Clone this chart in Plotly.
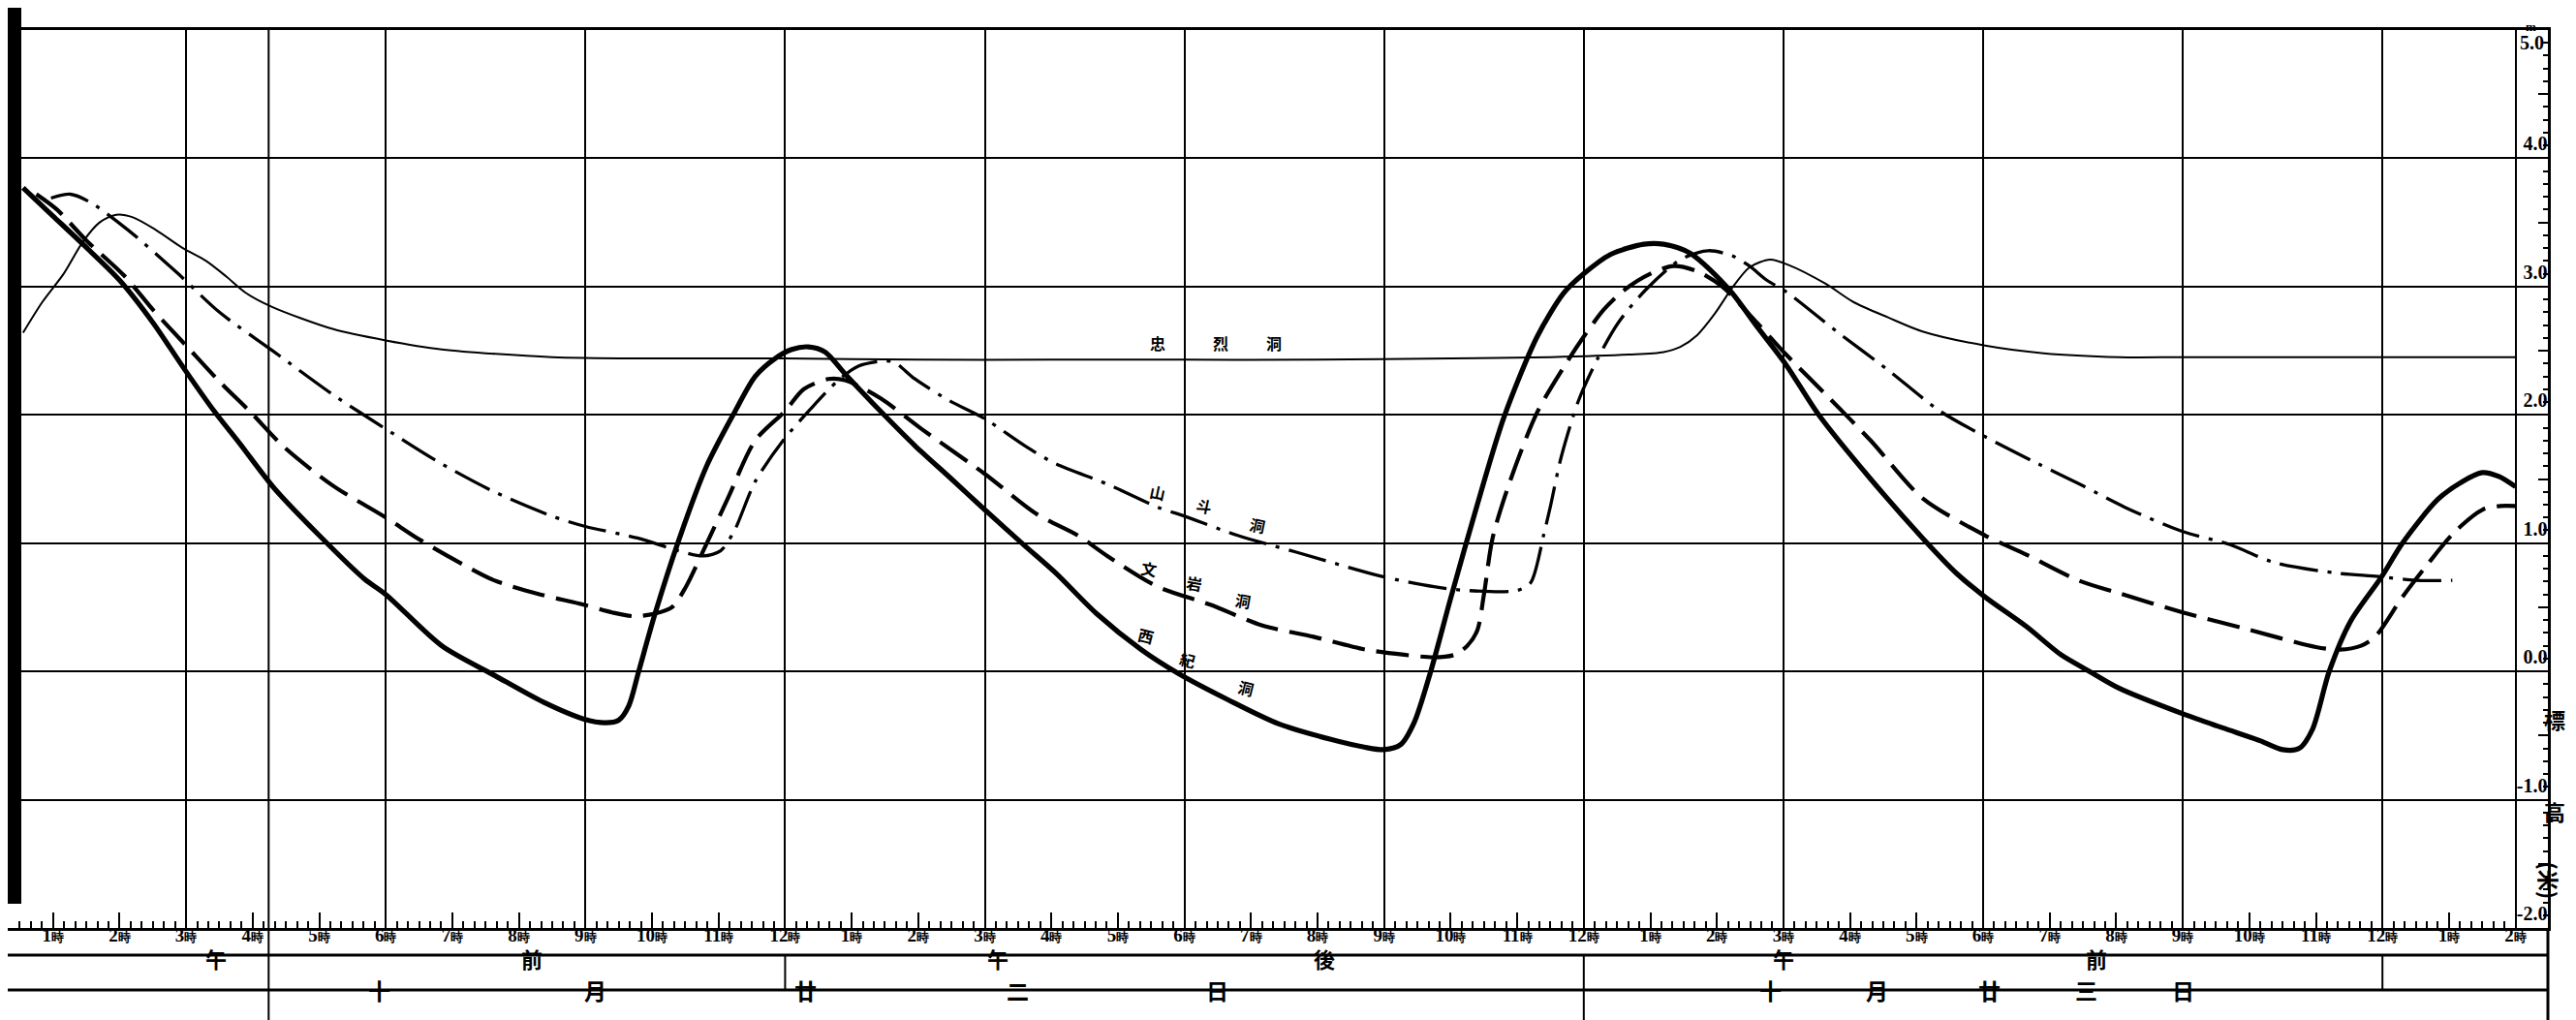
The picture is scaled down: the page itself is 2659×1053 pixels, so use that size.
import plotly.graph_objects as go

# ---------------- data (time in hours from 0h of 十月廿二日, height in m) ----------------
hours = list(range(1, 39))
hour_labels = [f"{(h - 1) % 12 + 1}<span style='font-size:13px'>時</span>" for h in hours]
grid_hours = [3, 6, 9, 12, 15, 18, 21, 24, 27, 30, 33, 36, 38]
height_ticks = [-2, -1, 0, 1, 2, 3, 4]
height_labels = ["-2.0", "-1.0", "0.0", "1.0", "2.0", "3.0", "4.0"]

# 西紀洞 (thick solid)
t_seiki = [0.55, 1.0, 1.47, 2.0, 2.5, 2.97, 3.42, 3.8, 4.32, 5.0, 5.68, 6.0, 6.84, 7.63, 8.37, 8.97, 9.3,
           9.5, 9.65, 9.8, 10.04, 10.4, 10.82, 11.24, 11.55, 11.85, 12.1, 12.35, 12.6, 12.9, 13.43, 13.95,
           14.5, 15.0, 15.6, 16.06, 16.68, 17.35, 17.92, 18.65, 19.42, 20.2, 20.7, 21.0, 21.25, 21.45, 21.7,
           22.0, 22.4, 22.8, 23.3, 23.7, 24.0, 24.4, 24.9, 25.2, 25.6, 26.18, 26.6, 27.04, 27.53, 28.31,
           29.09, 29.61, 30.03, 30.65, 31.17, 31.6, 32.04, 33.0, 33.6, 34.16, 34.5, 34.75, 34.95, 35.2,
           35.52, 35.99, 36.3, 36.83, 37.2, 37.5, 37.75, 38.0]
v_seiki = [3.77, 3.55, 3.32, 3.05, 2.72, 2.36, 2.03, 1.78, 1.43, 1.06, 0.72, 0.6, 0.2, -0.03, -0.24, -0.37,
           -0.40, -0.38, -0.27, 0.0, 0.44, 1.02, 1.6, 2.02, 2.3, 2.44, 2.51, 2.53, 2.49, 2.32, 2.03, 1.76,
           1.5, 1.26, 0.98, 0.77, 0.45, 0.17, -0.02, -0.22, -0.41, -0.53, -0.59, -0.61, -0.57, -0.40, 0.0,
           0.57, 1.3, 1.98, 2.61, 2.95, 3.10, 3.25, 3.33, 3.33, 3.26, 2.98, 2.69, 2.39, 2.0, 1.5,
           1.04, 0.76, 0.58, 0.35, 0.13, 0.0, -0.13, -0.33, -0.44, -0.54, -0.61, -0.6, -0.45, 0.0,
           0.39, 0.74, 1.0, 1.34, 1.48, 1.55, 1.52, 1.44]

# 文岩洞 (dashed)
t_bungan = [0.75, 1.06, 1.5, 2.08, 2.5, 3.0, 3.5, 3.97, 4.47, 5.2, 6.0, 6.47, 7.0, 7.63, 8.32, 8.9, 9.4, 9.73,
            10.04, 10.3, 10.51, 10.77, 11.14, 11.55, 12.0, 12.28, 12.65, 12.9, 13.43, 14.05, 15.0, 15.77,
            16.4, 16.84, 17.6, 18.39, 19.16, 19.94, 20.72, 21.3, 21.75, 22.06, 22.25, 22.4, 22.5, 22.63,
            22.89, 23.3, 23.72, 24.0, 24.3, 24.6, 25.0, 25.35, 25.7, 26.08, 26.6, 27.04, 27.69, 28.31,
            29.09, 30.03, 30.65, 31.43, 32.04, 33.0, 33.96, 35.0, 35.36, 35.68, 35.89, 36.3, 36.67, 37.09,
            37.5, 37.77, 38.0]
v_bungan = [3.72, 3.6, 3.36, 3.08, 2.82, 2.54, 2.26, 2.02, 1.75, 1.45, 1.2, 1.04, 0.88, 0.71, 0.6, 0.53, 0.46,
            0.43, 0.45, 0.5, 0.66, 0.94, 1.35, 1.8, 2.03, 2.2, 2.28, 2.27, 2.13, 1.89, 1.54, 1.23,
            1.06, 0.9, 0.66, 0.52, 0.36, 0.27, 0.17, 0.13, 0.11, 0.13, 0.2, 0.32, 0.6, 1.04,
            1.48, 2.02, 2.39, 2.61, 2.82, 2.97, 3.1, 3.16, 3.12, 3.0, 2.72, 2.47, 2.13, 1.8,
            1.35, 1.06, 0.91, 0.71, 0.61, 0.46, 0.33, 0.19, 0.17, 0.2, 0.27, 0.58, 0.83, 1.09,
            1.26, 1.29, 1.29]

# 山斗洞 (dash-dot)
t_santo = [0.97, 1.26, 1.55, 2.13, 2.86, 3.5, 4.3, 5.2, 6.0, 6.8, 7.63, 8.5, 9.0, 9.78, 10.4, 10.77, 11.03,
           11.24, 11.55, 11.97, 12.39, 12.8, 13.1, 13.48, 13.64, 13.95, 14.47, 15.0, 15.6, 16.06, 16.84,
           17.6, 18.0, 18.8, 19.68, 20.97, 21.75, 22.27, 22.99, 23.2, 23.4, 23.5, 23.66, 23.92, 24.21,
           24.52, 24.94, 25.45, 25.87, 26.23, 26.49, 26.75, 27.04, 27.8, 28.57, 29.35, 30.03, 30.82,
           31.45, 32.13, 33.0, 33.7, 34.37, 35.26, 35.94, 36.5, 37.05]
v_santo = [3.69, 3.72, 3.66, 3.44, 3.11, 2.8, 2.5, 2.16, 1.89, 1.63, 1.40, 1.21, 1.13, 1.04, 0.94, 0.9, 0.94,
           1.10, 1.48, 1.8, 2.05, 2.27, 2.38, 2.42, 2.41, 2.28, 2.11, 1.97, 1.76, 1.62, 1.46,
           1.28, 1.21, 1.06, 0.93, 0.74, 0.66, 0.63, 0.63, 0.69, 1.07, 1.29, 1.67, 2.11, 2.44,
           2.72, 2.98, 3.21, 3.28, 3.24, 3.16, 3.05, 2.96, 2.65, 2.35, 2.03, 1.83, 1.62,
           1.46, 1.28, 1.09, 0.99, 0.85, 0.77, 0.74, 0.71, 0.71]

# 忠烈洞 (thin solid)
t_churetsu = [0.55, 0.84, 1.16, 1.45, 1.7, 1.95, 2.2, 2.55, 2.95, 3.3, 3.6, 3.9, 4.3, 5.2, 6.0, 6.84, 8.5,
              10.0, 12.0, 14.0, 16.0, 18.0, 20.0, 22.0, 23.5, 24.68, 25.2, 25.45, 25.7, 25.97, 26.23,
              26.49, 26.8, 27.07, 27.64, 28.05, 28.57, 29.09, 30.03, 30.91, 32.04, 33.0, 35.0, 38.0]
v_churetsu = [2.64, 2.88, 3.1, 3.35, 3.5, 3.56, 3.54, 3.44, 3.3, 3.2, 3.08, 2.95, 2.84, 2.67, 2.58, 2.51, 2.45,
              2.44, 2.44, 2.43, 2.43, 2.43, 2.43, 2.44, 2.45, 2.47, 2.49, 2.53, 2.62, 2.79, 2.99,
              3.15, 3.21, 3.17, 3.02, 2.88, 2.76, 2.65, 2.54, 2.48, 2.45, 2.45, 2.45, 2.45]

# row texts under the time axis (character, hour position)
ampm_row = [("午", 3.45), ("前", 8.2), ("午", 15.2), ("後", 20.1), ("午", 27.0), ("前", 31.7)]
date_row = [("十", 5.9), ("月", 9.15), ("廿", 12.3), ("二", 15.5), ("日", 18.5),
            ("十", 26.8), ("月", 28.4), ("廿", 30.1), ("三", 31.55), ("日", 33.0)]

# ---------------- figure ----------------
W, H = 2659, 1053
ML, MR, MT, MB = 0, 37, 23, 103
PW, PH = W - ML - MR, H - MT - MB
XR = [0.32, 38.486]
YR = [-2, 5]


def py(p):  # pixel y -> paper y
    return (H - MB - p) / PH


def px(p):  # pixel x -> paper x
    return (p - ML) / PW


fig = go.Figure()

fig.add_trace(go.Scatter(x=t_churetsu, y=v_churetsu, mode="lines", name="忠烈洞",
                         line=dict(color="black", width=2, shape="spline", smoothing=0.8)))
fig.add_trace(go.Scatter(x=t_santo, y=v_santo, mode="lines", name="山斗洞",
                         line=dict(color="black", width=3.3, dash="40px,10px,4px,10px",
                                   shape="spline", smoothing=0.8)))
fig.add_trace(go.Scatter(x=t_bungan, y=v_bungan, mode="lines", name="文岩洞",
                         line=dict(color="black", width=4.2, dash="34px,12px", shape="spline", smoothing=0.8)))
fig.add_trace(go.Scatter(x=t_seiki, y=v_seiki, mode="lines", name="西紀洞",
                         line=dict(color="black", width=5.2, shape="spline", smoothing=0.8)))
# carrier trace for the overlay axes (grid lines / half-metre ticks)
fig.add_trace(go.Scatter(x=[grid_hours[0]], y=[0], xaxis="x2", yaxis="y2", mode="markers",
                         marker=dict(opacity=0), hoverinfo="skip", showlegend=False))

serif = "Liberation Serif"
cjk = "Noto Sans CJK JP"

fig.update_layout(
    width=W, height=H,
    margin=dict(l=ML, r=MR, t=MT, b=MB, autoexpand=False),
    paper_bgcolor="white", plot_bgcolor="white",
    showlegend=False,
    xaxis=dict(range=XR, tickmode="array", tickvals=hours, ticktext=hour_labels,
               ticks="inside", ticklen=16, tickwidth=2, tickcolor="black",
               ticklabelstandoff=-12, ticklabeloverflow="allow",
               minor=dict(tickmode="linear", tick0=0, dtick=1 / 6, ticks="inside", ticklen=7,
                          tickwidth=1.5, tickcolor="black", showgrid=False),
               showgrid=False, zeroline=False, showline=True, linewidth=3, linecolor="black",
               mirror=True, tickfont=dict(family=serif, size=19, color="black", weight="bold"),
               automargin=False),
    xaxis2=dict(range=XR, overlaying="x", tickmode="array", tickvals=grid_hours, showgrid=True,
                gridcolor="black", gridwidth=2, showticklabels=False, ticks="", showline=False,
                zeroline=False),
    yaxis=dict(range=YR, side="right", tickmode="array", tickvals=height_ticks, ticktext=height_labels,
               ticks="inside", ticklen=10, tickwidth=2, tickcolor="black",
               ticklabelposition="inside top",
               minor=dict(tickmode="linear", tick0=0, dtick=0.1, ticks="inside", ticklen=5,
                          tickwidth=1.5, tickcolor="black", showgrid=False),
               showgrid=True, gridcolor="black", gridwidth=2, zeroline=False,
               showline=True, linewidth=3, linecolor="black",
               tickfont=dict(family=serif, size=20, color="black", weight="bold"), automargin=False),
    yaxis2=dict(range=YR, overlaying="y", side="right", tickmode="array",
                tickvals=[-1.5, -0.5, 0.5, 1.5, 2.5, 3.5, 4.5], ticks="inside", ticklen=10,
                tickwidth=2, tickcolor="black", showticklabels=False, showgrid=False,
                zeroline=False, showline=False),
)

shapes = []
# scan edge on the left
shapes.append(dict(type="rect", xref="paper", yref="paper", x0=px(0), x1=px(14), y0=py(925), y1=py(0),
                   fillcolor="black", line=dict(width=0), layer="above"))
# seam line
shapes.append(dict(type="line", xref="x", yref="paper", x0=4.24, x1=4.24, y0=py(1050), y1=py(23),
                   line=dict(color="black", width=2), layer="below"))
# rows under the time axis
for yy in (978, 1014, 1050):
    shapes.append(dict(type="line", xref="paper", yref="paper", x0=0, x1=1, y0=py(yy), y1=py(yy),
                       line=dict(color="black", width=3)))
shapes.append(dict(type="line", xref="paper", yref="paper", x0=1, x1=1, y0=py(950), y1=py(1050),
                   line=dict(color="black", width=3)))
for tt in (12, 24, 36):
    shapes.append(dict(type="line", xref="x", yref="paper", x0=tt, x1=tt, y0=py(978), y1=py(1014),
                       line=dict(color="black", width=2)))
shapes.append(dict(type="line", xref="x", yref="paper", x0=24, x1=24, y0=py(1014), y1=py(1050),
                   line=dict(color="black", width=2)))
fig.update_layout(shapes=shapes)

ann = []
for ch, tt in ampm_row:
    ann.append(dict(x=tt, y=py(999), xref="x", yref="paper", text=ch, showarrow=False,
                    font=dict(family=cjk, size=22, color="black", weight="bold")))
for ch, tt in date_row:
    ann.append(dict(x=tt, y=py(1033), xref="x", yref="paper", text=ch, showarrow=False,
                    font=dict(family=cjk, size=23, color="black", weight="bold")))

# station labels along the curves
station_labels = [
    ("忠", 17.6, 2.56, 0), ("烈", 18.55, 2.56, 0), ("洞", 19.35, 2.56, 0),
    ("山", 17.6, 1.40, 12), ("斗", 18.3, 1.29, 12), ("洞", 19.1, 1.14, 12),
    ("文", 17.46, 0.80, 10), ("岩", 18.15, 0.69, 10), ("洞", 18.88, 0.55, 10),
    ("西", 17.42, 0.28, 14), ("紀", 18.05, 0.09, 14), ("洞", 18.92, -0.13, 14),
]
for ch, tt, vv, ang in station_labels:
    ann.append(dict(x=tt, y=vv, xref="x", yref="y", text=ch, showarrow=False, textangle=ang,
                    font=dict(family=cjk, size=16, color="black", weight="bold")))

# 5.0 label and unit
ann.append(dict(x=1, y=1, xref="paper", yref="paper", text="5.0", showarrow=False, xanchor="right",
                yanchor="top", xshift=-2, font=dict(family=serif, size=20, color="black", weight="bold")))
ann.append(dict(x=px(2612), y=py(10), xref="paper", yref="paper", text="m", showarrow=False,
                font=dict(family=serif, size=13, color="black", weight="bold")))
# axis title
for ch, yy, ang in (("標", 752, 0), ("高", 847, 0), ("(米)", 922, 90)):
    ann.append(dict(x=px(2642), y=py(yy), xref="paper", yref="paper", text=ch, showarrow=False,
                    textangle=ang, font=dict(family=cjk, size=22, color="black", weight="bold")))
fig.update_layout(annotations=ann)

fig.write_html("out.html")
